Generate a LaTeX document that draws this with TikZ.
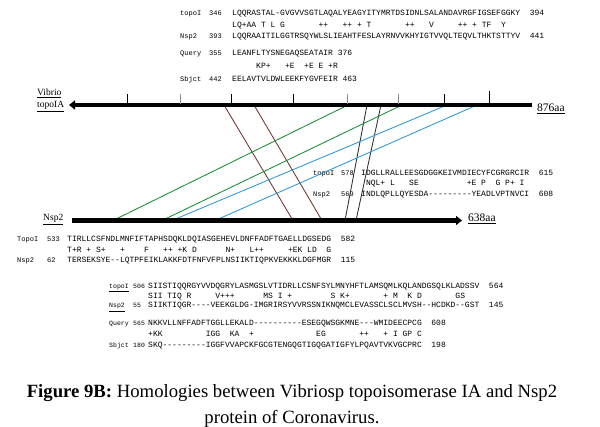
\documentclass[tikz,border=0pt]{standalone}
\usepackage{fontspec}
\setmainfont{Liberation Serif}
\setmonofont{Liberation Mono}
\usetikzlibrary{arrows.meta}
\definecolor{lgreen}{RGB}{25,140,55}
\definecolor{lblue}{RGB}{45,150,215}
\definecolor{lbrown}{RGB}{115,50,50}
\definecolor{ldark}{RGB}{45,45,45}
\newcommand\gp[1]{\kern#1\fontcharwd\font`M\relax}
\begin{document}
\begin{tikzpicture}[x=1pt,y=-1pt,
  seq/.style={anchor=base west,inner sep=0pt,font=\ttfamily\fontsize{8}{9}\selectfont},
  lbl/.style={anchor=base west,inner sep=0pt,font=\ttfamily\fontsize{7}{8}\selectfont},
  lbls/.style={anchor=base west,inner sep=0pt,font=\ttfamily\fontsize{6.5}{7}\selectfont},
  barlbl/.style={anchor=base west,inner sep=0pt,font=\fontsize{11.5}{12}\selectfont},
  sidelbl/.style={anchor=base west,inner sep=0pt,font=\fontsize{9.5}{10}\selectfont},
  captxt/.style={anchor=base,inner sep=0pt,font=\fontsize{18.7}{20}\selectfont},
  bar/.style={line width=4.5pt},
  tk/.style={line width=1pt},
  tkg/.style={line width=0.8pt,black!45},
  conn/.style={line width=0.85pt},
]
\useasboundingbox (0,0) rectangle (600,427);

% ---------- alignment block 1 (top) ----------
\node[lbl] (b1l1) at (180,15.5) {topoI};
\node[lbl] (b1n1) at (209,15.5) {346};
\node[seq] (b1s1) at (232,15.5) {LQQRASTAL-GVGVVSGTLAQALYEAGYITYMRTDSIDNLSALANDAVRGFIGSEFGGKY\gp{2}394};
\node[seq] (b1s2) at (232,27.5) {LQ+AA~T~L~G\gp{7}++\gp{3}++~+~T\gp{7}++\gp{3}V\gp{5}++~+~TF\gp{2}Y};
\node[lbl] (b1l3) at (180,38.5) {Nsp2};
\node[lbl] (b1n3) at (209,38.5) {393};
\node[seq] (b1s3) at (232,38.5) {LQQRAAITILGGTRSQYWLSLIEAHTFESLAYRNVVKHYIGTVVQLTEQVLTHKTSTTYV\gp{2}441};

\node[lbl] (q1l1) at (180,55.5) {Query};
\node[lbl] (q1n1) at (209,55.5) {355};
\node[seq] (q1s1) at (232,55.5) {LEANFLTYSNEGAQSEATAIR~376};
\node[seq] (q1s2) at (232,68.5) {\gp{5}KP+\gp{3}+E\gp{2}+E~E~+R};
\node[lbl] (q1l3) at (180,82) {Sbjct};
\node[lbl] (q1n3) at (209,82) {442};
\node[seq] (q1s3) at (232,82) {EELAVTVLDWLEEKFYGVFEIR~463};

% ---------- alignment block 2 ----------
\node[lbl] (b2l1) at (313,175.5) {topoI};
\node[lbl] (b2n1) at (341,175.5) {578};
\node[seq] (b2s1) at (361,175.5) {IDGLLRALLEESGDGGKEIVMDIECYFCGRGRCIR\gp{2}615};
\node[seq] (b2s2) at (361,185.5) {~NQL+~L\gp{3}SE\gp{10}+E~P\gp{2}G~P+~I};
\node[lbl] (b2l3) at (313,196.5) {Nsp2};
\node[lbl] (b2n3) at (341,196.5) {569};
\node[seq] (b2s3) at (361,196.5) {INDLQPLLQYESDA---------YEADLVPTNVCI\gp{2}608};

% ---------- alignment block 3 ----------
\node[lbl] (b3l1) at (17,241.5) {TopoI};
\node[lbl] (b3n1) at (47,241.5) {533};
\node[seq] (b3s1) at (67,241.5) {TIRLLCSFNDLMNFIFTAPHSDQKLDQIASGEHEVLDNFFADFTGAELLDGSEDG\gp{2}582};
\node[seq] (b3s2) at (67,252.5) {T+R~+~S+\gp{3}+\gp{4}F\gp{3}++~+K~D\gp{6}N+\gp{3}L++\gp{5}+EK~LD\gp{2}G};
\node[lbl] (b3l3) at (17,262.5) {Nsp2};
\node[lbl] (b3n3) at (47,262.5) {62};
\node[seq] (b3s3) at (67,262.5) {TERSEKSYE--LQTPFEIKLAKKFDTFNFVFPLNSIIKTIQPKVEKKKLDGFMGR\gp{2}115};

% ---------- alignment block 4 ----------
\node[lbls] (b4l1) at (109,288.5) {\underline{topoI}};
\node[lbls] (b4n1) at (133,288.5) {506};
\node[seq] (b4s1) at (148,288.5) {SIISTIQQRGYVVDQGRYLASMGSLVTIDRLLCSNFSYLMNYHFTLAMSQMLKQLANDGSQLKLADSSV\gp{2}564};
\node[seq] (b4s2) at (148,298.5) {SII~TIQ~R\gp{5}V+++\gp{6}MS~I~+\gp{8}S~K+\gp{7}+~M\gp{2}K~D\gp{7}GS};
\node[lbls] (b4l3) at (109,308) {\underline{Nsp2}};
\node[lbls] (b4n3) at (133,308) {55};
\node[seq] (b4s3) at (148,308) {SIIKTIQGR----VEEKGLDG-IMGRIRSYVVRSSNIKNQMCLEVASSCLSCLMVSH--HCDKD--GST\gp{2}145};

% ---------- alignment block 5 ----------
\node[lbls] (b5l1) at (109,326) {Query};
\node[lbls] (b5n1) at (133,326) {565};
\node[seq] (b5s1) at (148,326) {NKKVLLNFFADFTGGLLEKALD----------ESEGQWSGKMNE---WMIDEECPCG\gp{2}608};
\node[seq] (b5s2) at (148,336.5) {+KK\gp{9}IGG\gp{2}KA\gp{2}+\gp{13}EG\gp{7}++\gp{3}+~I~GP~C};
\node[lbls] (b5l3) at (109,347.5) {Sbjct};
\node[lbls] (b5n3) at (133,347.5) {180};
\node[seq] (b5s3) at (148,347.5) {SKQ---------IGGFVVAPCKFGCGTENGQGTIGQGATIGFYLPQAVTVKVGCPRC\gp{2}198};

% ---------- bar end points ----------
\coordinate (TL) at (69,105);   \coordinate (TR) at (532,105);
\coordinate (BL) at (72,220.5); \coordinate (BR) at (462,220.5);
\coordinate (ta1) at (224,105); \coordinate (ba1) at (293,220.5);
\coordinate (ta2) at (254,105); \coordinate (ba2) at (322,220.5);
\coordinate (tk1) at (367,105); \coordinate (bk1) at (345,220.5);
\coordinate (tk2) at (381,105); \coordinate (bk2) at (356,220.5);
\coordinate (tg1) at (348,105); \coordinate (bg1) at (113,220.5);
\coordinate (tg2) at (402,105); \coordinate (bg2) at (162,220.5);
\coordinate (tu1) at (447,105); \coordinate (bu1) at (172,220.5);
\coordinate (tu2) at (477,105); \coordinate (bu2) at (215,220.5);

% ---------- homology connectors ----------
\draw[conn,lbrown] (ta1) -- (ba1);
\draw[conn,lbrown] (ta2) -- (ba2);
\draw[conn,ldark] (tk1) -- (bk1);
\draw[conn,ldark] (tk2) -- (bk2);
\draw[conn,lgreen] (tg1) -- (bg1);
\draw[conn,lgreen] (tg2) -- (bg2);
\draw[conn,lblue] (tu1) -- (bu1);
\draw[conn,lblue] (tu2) -- (bu2);

% ---------- bars ----------
\draw[bar,-{Triangle[length=6pt,width=9pt]}] (TR) -- (TL);
\draw[bar,-{Triangle[length=6pt,width=9pt]}] (BL) -- (BR);
\foreach \x in {127,231,293,444} \draw[tk] (\x,104) -- (\x,94);
\foreach \x in {180,347,398} \draw[tkg] (\x,104) -- (\x,94);
\draw[tk] (489,104) -- (489,91);

% ---------- bar labels ----------
\node[sidelbl] (vib1) at (37,95.5) {\underline{Vibrio}};
\node[sidelbl] (vib2) at (37,107.5) {\underline{topoIA}};
\node[barlbl] (len1) at (537,112) {\underline{876aa}};
\node[sidelbl] (nsp) at (43,221) {\underline{Nsp2}};
\node[barlbl] (len2) at (468,222) {\underline{638aa}};

% ---------- caption ----------
\node[captxt] (cap1) at (292,398) {\textbf{Figure 9B:} Homologies between Vibriosp topoisomerase IA and Nsp2};
\node[captxt] (cap2) at (292,424) {protein of Coronavirus.};
\end{tikzpicture}
\end{document}
